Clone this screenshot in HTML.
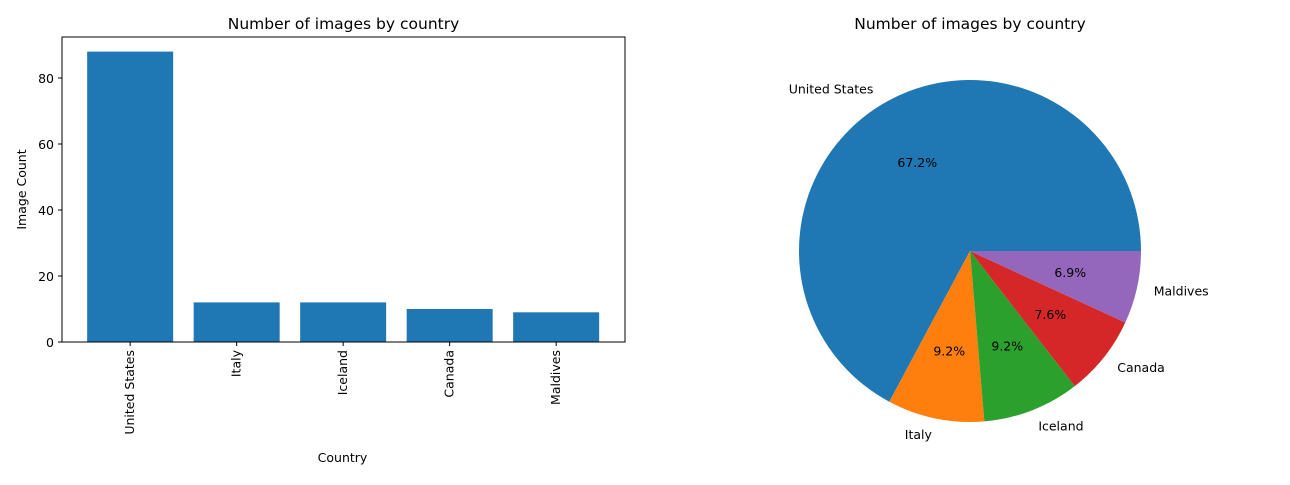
<!DOCTYPE html>
<html><head><meta charset="utf-8"><style>
body{margin:0;background:#fff;}
svg text{font-family:"DejaVu Sans","Liberation Sans",sans-serif;}
</style></head><body>
<svg id="s" width="1290" height="480" xmlns="http://www.w3.org/2000/svg"></svg>
<script>
const categories=["United States","Italy","Iceland","Canada","Maldives"];
const counts=[88,12,12,10,9];
const yTicks=[0,20,40,60,80];
const colors=["#1f77b4","#ff7f0e","#2ca02c","#d62728","#9467bd"];
const NS="http://www.w3.org/2000/svg";
const svg=document.getElementById('s');
function mk(t,a,p){const e=document.createElementNS(NS,t);for(const k in a)e.setAttribute(k,a[k]);(p||svg).appendChild(e);return e;}
function txt(s,a,p){const e=mk('text',a,p);e.textContent=s;return e;}
const L=62,R=625,T=37,B=342;
const yScale=v=>B-v*3.3;
const n=categories.length;
const step=106.5;
const xScale=i=>L+(i+0.64)*step;
const bw=86;
const g=mk('g',{});


txt("Number of images by country",{x:(L+R)/2,y:29,'text-anchor':'middle','font-size':15.5},g);
categories.forEach((c,i)=>{
 const r=mk('rect',{x:xScale(i)-bw/2,y:yScale(counts[i]),width:bw,height:B-yScale(counts[i]),fill:colors[0]},g);
 
 
 mk('line',{x1:xScale(i),x2:xScale(i),y1:B,y2:B+4,stroke:'#000'},g);
 const t=txt(c,{transform:`translate(${xScale(i)+4},${B+8}) rotate(-90)`,'text-anchor':'end','font-size':12.5},g);
 
});
yTicks.forEach(v=>{
 mk('line',{x1:L-4,x2:L,y1:yScale(v),y2:yScale(v),stroke:'#000'},g);
 const t=txt(v,{x:L-8,y:yScale(v)+5,'text-anchor':'end','font-size':12.5},g);
 
});
mk('rect',{x:L,y:T,width:R-L,height:B-T,fill:'none',stroke:'#000','stroke-width':1},g);
txt("Country",{x:(L+R)/2-1,y:462,'text-anchor':'middle','font-size':12.5},g);
txt("Image Count",{transform:`translate(26,${(T+B)/2}) rotate(-90)`,'text-anchor':'middle','font-size':12.5},g);
const cx=970,cy=251,rad=171;
const pg=mk('g',{});


txt("Number of images by country",{x:cx,y:29,'text-anchor':'middle','font-size':15.5},pg);
const total=counts.reduce((a,b)=>a+b,0);
let a0=0;
counts.forEach((v,i)=>{
 const a1=a0+v/total*2*Math.PI;
 const p=(a)=>[cx+rad*Math.cos(a),cy-rad*Math.sin(a)];
 const [x0,y0]=p(a0),[x1,y1]=p(a1);
 const large=(a1-a0)>Math.PI?1:0;
 const s=mk('path',{d:`M${cx},${cy}L${x0},${y0}A${rad},${rad} 0 ${large} 0 ${x1},${y1}Z`,fill:colors[i]},pg);
 
 
 const am=(a0+a1)/2,c=Math.cos(am),sn=Math.sin(am);
 const lx=cx+1.1*rad*c,ly=cy-1.1*rad*sn;
 const lt=txt(categories[i],{x:lx,y:ly+4,'text-anchor':c<0?'end':'start','font-size':12.5},pg);
 
 const pt=txt((v/total*100).toFixed(1)+'%',{x:cx+0.6*rad*c,y:cy-0.6*rad*sn+4,'text-anchor':'middle','font-size':12.5},pg);
 
 a0=a1;
});
</script>
</body></html>
